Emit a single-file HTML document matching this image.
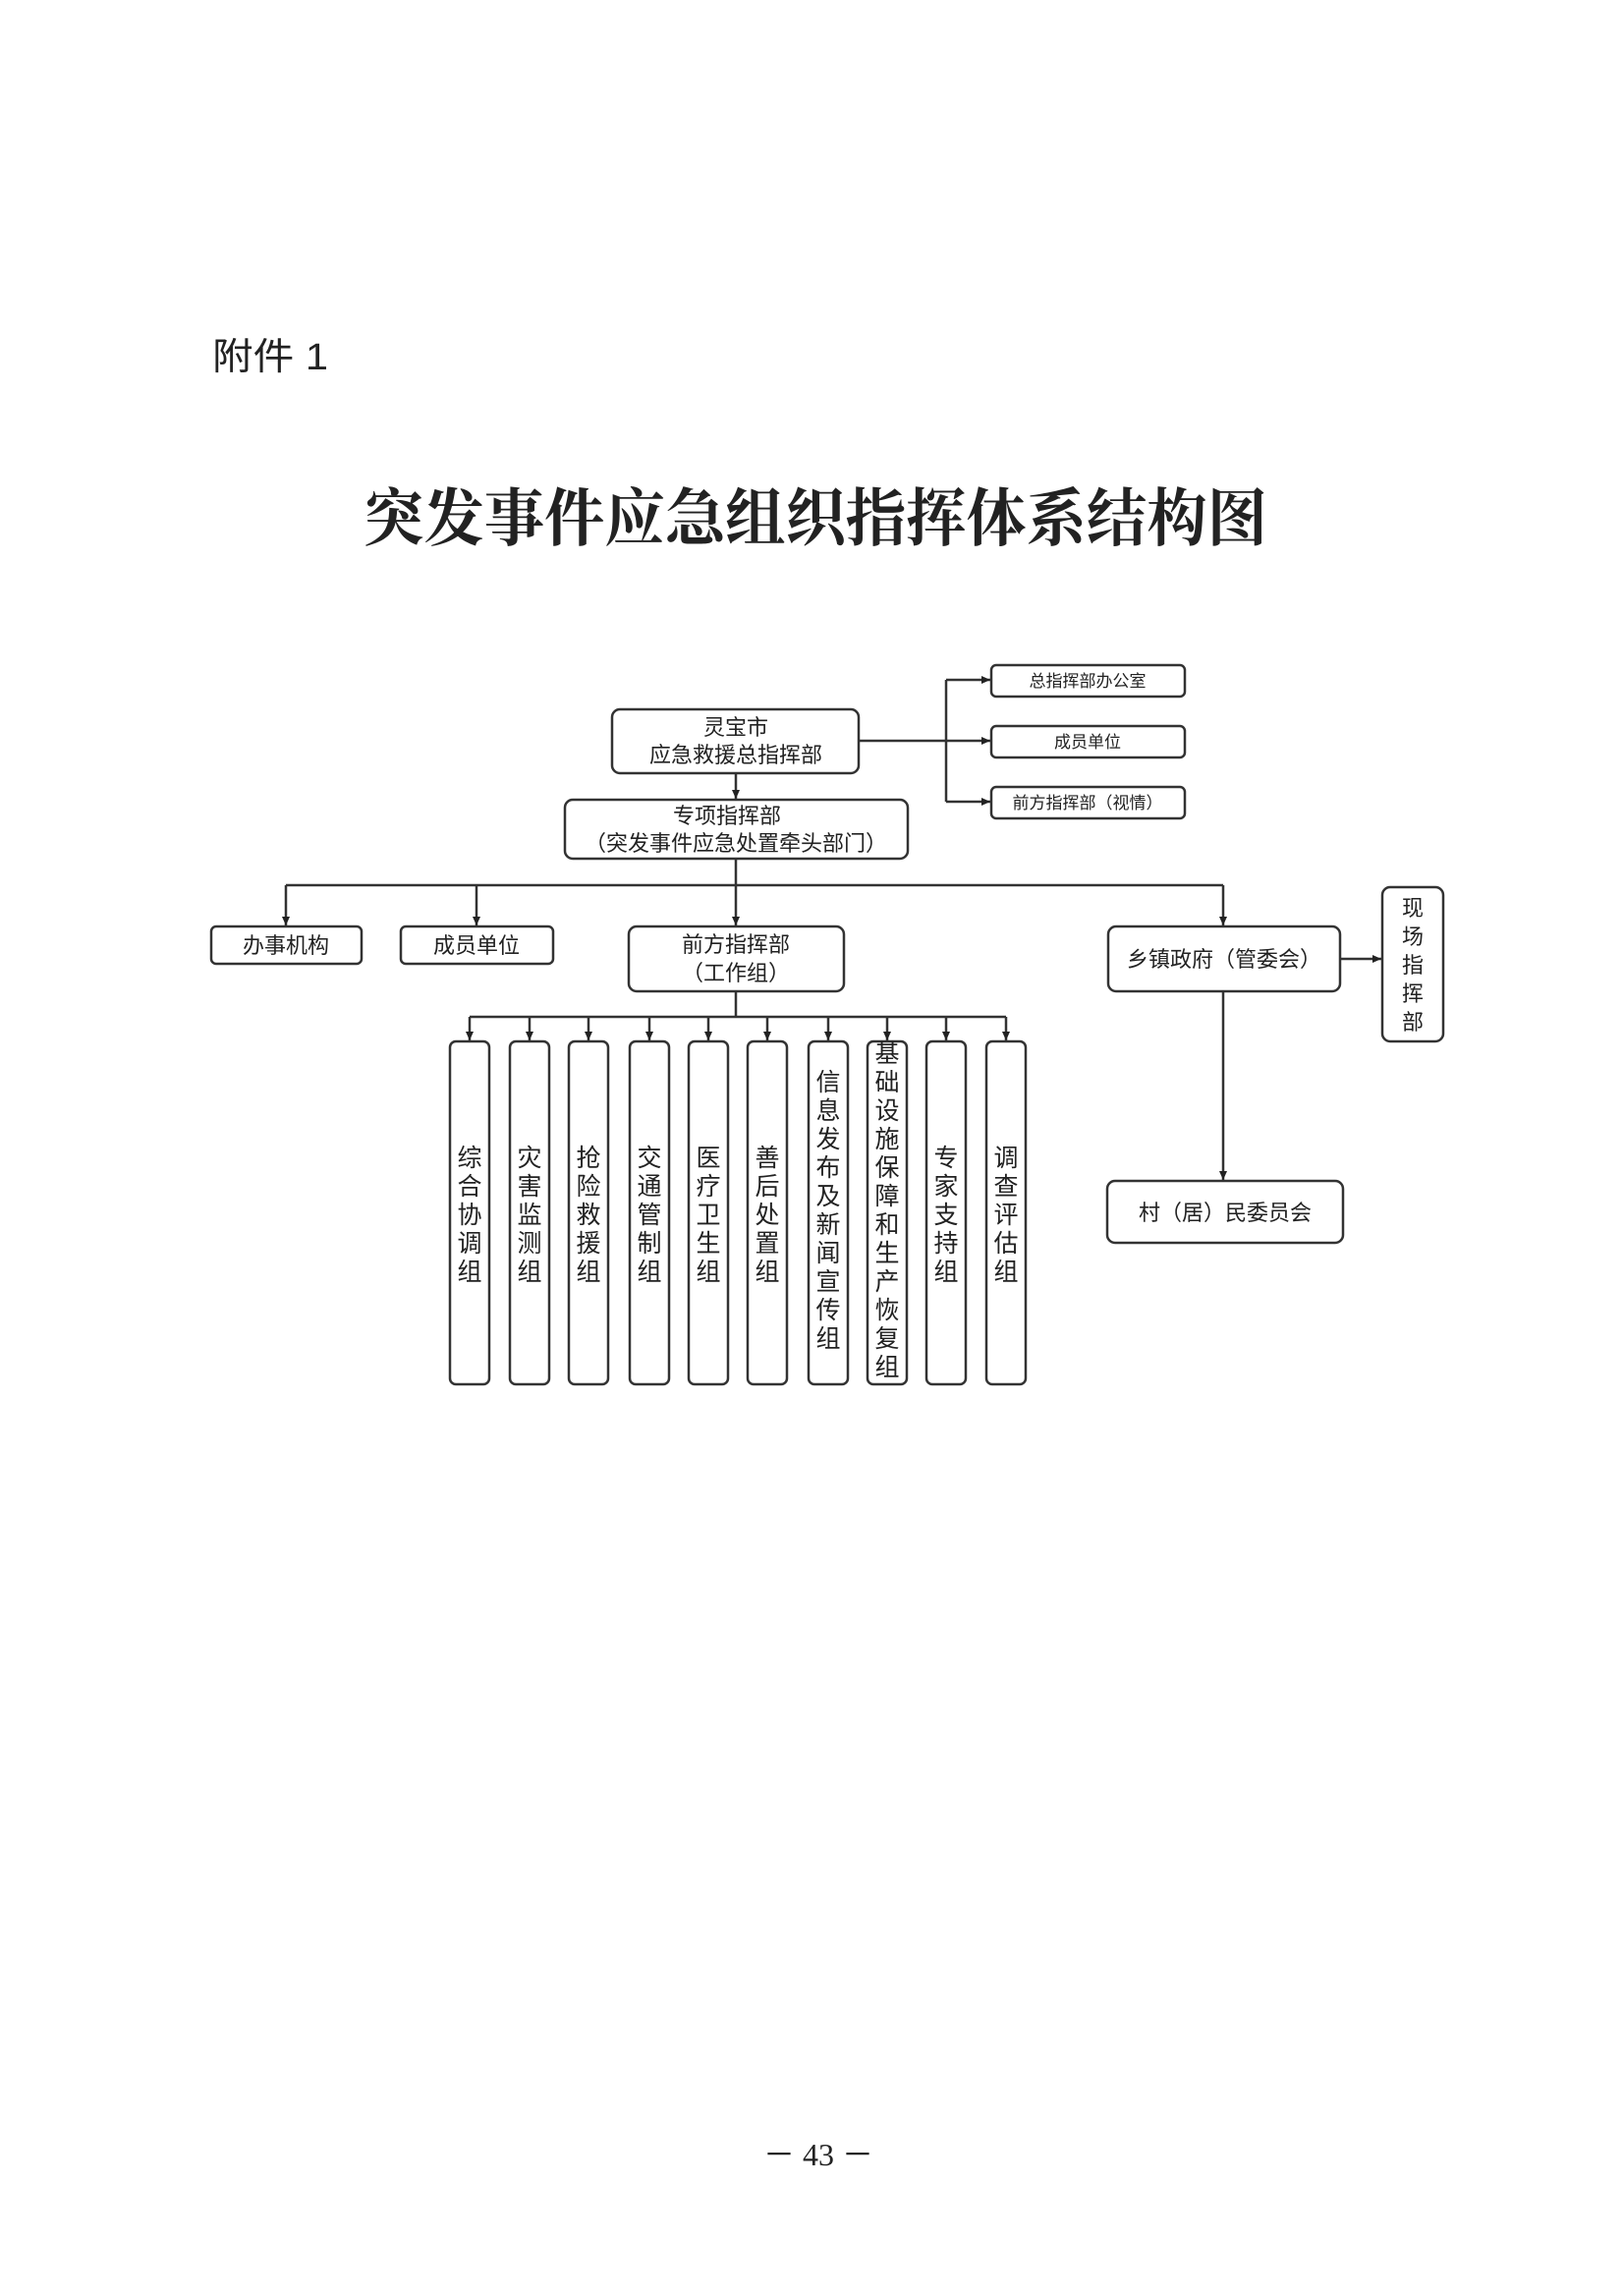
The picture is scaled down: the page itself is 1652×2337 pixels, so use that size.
<!DOCTYPE html>
<html><head><meta charset="utf-8"><style>
html,body{margin:0;padding:0;background:#fff;}
svg{display:block;}
text{font-family:"Liberation Sans","Noto Sans CJK SC",sans-serif;fill:#222;}
</style></head><body>
<svg width="1652" height="2337" viewBox="0 0 1652 2337" xmlns="http://www.w3.org/2000/svg">
<defs><marker id="a" markerWidth="10" markerHeight="10" refX="9" refY="5" orient="auto" markerUnits="userSpaceOnUse"><path d="M0,1 L9,5 L0,9 z" fill="#222"/></marker></defs>
<text x="216" y="376" font-size="38" textLength="118" lengthAdjust="spacingAndGlyphs">附件 1</text>
<text x="370" y="550" font-size="64" font-weight="bold" textLength="920" lengthAdjust="spacingAndGlyphs" style="font-family:'Noto Serif CJK SC',serif">突发事件应急组织指挥体系结构图</text>
<g fill="none" stroke="#333" stroke-width="2.5">
<rect x="623" y="722" width="251" height="65" rx="8"/>
<rect x="575" y="814" width="349" height="60" rx="8"/>
<rect x="1009" y="677" width="197" height="32" rx="5"/>
<rect x="1009" y="739" width="197" height="32" rx="5"/>
<rect x="1009" y="801" width="197" height="32" rx="5"/>
<rect x="215" y="943" width="153" height="38" rx="5"/>
<rect x="408" y="943" width="155" height="38" rx="5"/>
<rect x="640" y="943" width="219" height="66" rx="8"/>
<rect x="1128" y="943" width="236" height="66" rx="8"/>
<rect x="1407" y="903" width="62" height="157" rx="8"/>
<rect x="1127" y="1202" width="240" height="63" rx="8"/>
<rect x="458" y="1060" width="40" height="349" rx="6"/>
<rect x="519" y="1060" width="40" height="349" rx="6"/>
<rect x="579" y="1060" width="40" height="349" rx="6"/>
<rect x="641" y="1060" width="40" height="349" rx="6"/>
<rect x="701" y="1060" width="40" height="349" rx="6"/>
<rect x="761" y="1060" width="40" height="349" rx="6"/>
<rect x="823" y="1060" width="40" height="349" rx="6"/>
<rect x="883" y="1060" width="40" height="349" rx="6"/>
<rect x="943" y="1060" width="40" height="349" rx="6"/>
<rect x="1004" y="1060" width="40" height="349" rx="6"/>
</g>
<g stroke="#333" stroke-width="2.5" fill="none">
<line x1="874" y1="754" x2="963" y2="754"/>
<line x1="963" y1="692" x2="963" y2="816"/>
<line x1="963" y1="692" x2="1008" y2="692" marker-end="url(#a)"/>
<line x1="963" y1="754" x2="1008" y2="754" marker-end="url(#a)"/>
<line x1="963" y1="816" x2="1008" y2="816" marker-end="url(#a)"/>
<line x1="749" y1="787" x2="749" y2="813" marker-end="url(#a)"/>
<line x1="749" y1="874" x2="749" y2="942" marker-end="url(#a)"/>
<line x1="291" y1="901" x2="1245" y2="901"/>
<line x1="291" y1="901" x2="291" y2="942" marker-end="url(#a)"/>
<line x1="485" y1="901" x2="485" y2="942" marker-end="url(#a)"/>
<line x1="1245" y1="901" x2="1245" y2="942" marker-end="url(#a)"/>
<line x1="1364" y1="976" x2="1406" y2="976" marker-end="url(#a)"/>
<line x1="1245" y1="1009" x2="1245" y2="1201" marker-end="url(#a)"/>
<line x1="749" y1="1009" x2="749" y2="1035"/>
<line x1="478" y1="1035" x2="1024" y2="1035"/>
<line x1="478" y1="1035" x2="478" y2="1059" marker-end="url(#a)"/>
<line x1="539" y1="1035" x2="539" y2="1059" marker-end="url(#a)"/>
<line x1="599" y1="1035" x2="599" y2="1059" marker-end="url(#a)"/>
<line x1="661" y1="1035" x2="661" y2="1059" marker-end="url(#a)"/>
<line x1="721" y1="1035" x2="721" y2="1059" marker-end="url(#a)"/>
<line x1="781" y1="1035" x2="781" y2="1059" marker-end="url(#a)"/>
<line x1="843" y1="1035" x2="843" y2="1059" marker-end="url(#a)"/>
<line x1="903" y1="1035" x2="903" y2="1059" marker-end="url(#a)"/>
<line x1="963" y1="1035" x2="963" y2="1059" marker-end="url(#a)"/>
<line x1="1024" y1="1035" x2="1024" y2="1059" marker-end="url(#a)"/>
</g>
<g text-anchor="middle">
<text x="749" y="748" font-size="22">灵宝市</text>
<text x="749" y="776" font-size="22">应急救援总指挥部</text>
<text x="740" y="838" font-size="22">专项指挥部</text>
<text x="749" y="866" font-size="22">（突发事件应急处置牵头部门）</text>
<text x="1107" y="699" font-size="17">总指挥部办公室</text>
<text x="1107" y="761" font-size="17">成员单位</text>
<text x="1107" y="823" font-size="17">前方指挥部（视情）</text>
<text x="291" y="970" font-size="22">办事机构</text>
<text x="485" y="970" font-size="22">成员单位</text>
<text x="749" y="969" font-size="22">前方指挥部</text>
<text x="749" y="998" font-size="22">（工作组）</text>
<text x="1246" y="984" font-size="22">乡镇政府（管委会）</text>
<text x="1247" y="1242" font-size="22">村（居）民委员会</text>
</g>
<g font-size="22" text-anchor="middle">
<text x="1438" y="932">现</text><text x="1438" y="961">场</text><text x="1438" y="990">指</text><text x="1438" y="1019">挥</text><text x="1438" y="1048">部</text>
</g>
<g font-size="25" text-anchor="middle">
<text x="478" y="1187">综</text><text x="478" y="1216">合</text><text x="478" y="1245">协</text><text x="478" y="1274">调</text><text x="478" y="1303">组</text>
<text x="539" y="1187">灾</text><text x="539" y="1216">害</text><text x="539" y="1245">监</text><text x="539" y="1274">测</text><text x="539" y="1303">组</text>
<text x="599" y="1187">抢</text><text x="599" y="1216">险</text><text x="599" y="1245">救</text><text x="599" y="1274">援</text><text x="599" y="1303">组</text>
<text x="661" y="1187">交</text><text x="661" y="1216">通</text><text x="661" y="1245">管</text><text x="661" y="1274">制</text><text x="661" y="1303">组</text>
<text x="721" y="1187">医</text><text x="721" y="1216">疗</text><text x="721" y="1245">卫</text><text x="721" y="1274">生</text><text x="721" y="1303">组</text>
<text x="781" y="1187">善</text><text x="781" y="1216">后</text><text x="781" y="1245">处</text><text x="781" y="1274">置</text><text x="781" y="1303">组</text>
<text x="843" y="1110">信</text><text x="843" y="1139">息</text><text x="843" y="1168">发</text><text x="843" y="1197">布</text><text x="843" y="1226">及</text><text x="843" y="1255">新</text><text x="843" y="1284">闻</text><text x="843" y="1313">宣</text><text x="843" y="1342">传</text><text x="843" y="1371">组</text>
<text x="903" y="1081">基</text><text x="903" y="1110">础</text><text x="903" y="1139">设</text><text x="903" y="1168">施</text><text x="903" y="1197">保</text><text x="903" y="1226">障</text><text x="903" y="1255">和</text><text x="903" y="1284">生</text><text x="903" y="1313">产</text><text x="903" y="1342">恢</text><text x="903" y="1371">复</text><text x="903" y="1400">组</text>
<text x="963" y="1187">专</text><text x="963" y="1216">家</text><text x="963" y="1245">支</text><text x="963" y="1274">持</text><text x="963" y="1303">组</text>
<text x="1024" y="1187">调</text><text x="1024" y="1216">查</text><text x="1024" y="1245">评</text><text x="1024" y="1274">估</text><text x="1024" y="1303">组</text>
</g>
<text x="833" y="2204" font-size="32" text-anchor="middle" style="font-family:'Liberation Serif',serif">－ 43 －</text>
</svg>
</body></html>
